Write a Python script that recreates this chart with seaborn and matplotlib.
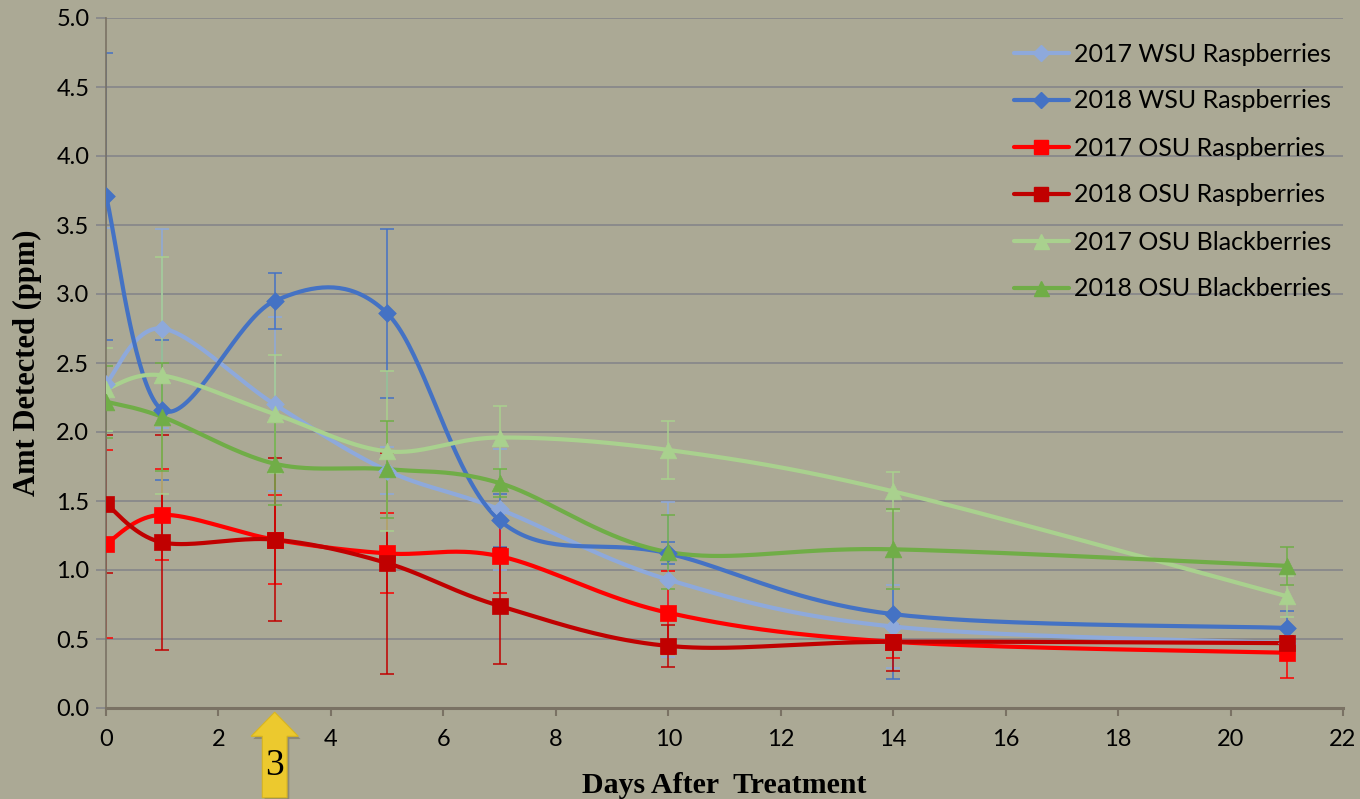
import numpy as np
import pandas as pd
import matplotlib
matplotlib.use("Agg")
import matplotlib.pyplot as plt
import matplotlib.transforms as mtransforms
from matplotlib.patches import Polygon
from matplotlib.lines import Line2D
import seaborn as sns

# ---------------- data ----------------
days = [0, 1, 3, 5, 7, 10, 14, 21]

wsu_rasp_2017 = [2.35, 2.75, 2.20, 1.72, 1.44, 0.93, 0.59, 0.47]
wsu_rasp_2017_err = [1.13, 0.72, 0.63, 0.17, 0.44, 0.56, 0.30, 0.05]

wsu_rasp_2018 = [3.71, 2.16, 2.95, 2.86, 1.36, 1.12, 0.68, 0.58]
wsu_rasp_2018_err = [1.04, 0.51, 0.20, 0.61, 0.19, 0.08, 0.47, 0.12]

osu_rasp_2017 = [1.19, 1.40, 1.22, 1.12, 1.10, 0.69, 0.48, 0.40]
osu_rasp_2017_err = [0.68, 0.33, 0.32, 0.29, 0.27, 0.30, 0.12, 0.18]

osu_rasp_2018 = [1.48, 1.20, 1.22, 1.05, 0.74, 0.45, 0.48, 0.47]
osu_rasp_2018_err = [0.50, 0.78, 0.59, 0.80, 0.42, 0.15, 0.21, 0.05]

osu_black_2017 = [2.31, 2.41, 2.13, 1.86, 1.96, 1.87, 1.57, 0.81]
osu_black_2017_err = [0.30, 0.86, 0.43, 0.58, 0.23, 0.21, 0.14, 0.15]

osu_black_2018 = [2.22, 2.11, 1.77, 1.73, 1.63, 1.13, 1.15, 1.03]
osu_black_2018_err = [0.26, 0.39, 0.30, 0.35, 0.10, 0.27, 0.29, 0.14]

series_names = ["2017 WSU Raspberries", "2018 WSU Raspberries",
                "2017 OSU Raspberries", "2018 OSU Raspberries",
                "2017 OSU Blackberries", "2018 OSU Blackberries"]
x_ticks = [0, 2, 4, 6, 8, 10, 12, 14, 16, 18, 20, 22]
y_ticks = [0.0, 0.5, 1.0, 1.5, 2.0, 2.5, 3.0, 3.5, 4.0, 4.5, 5.0]
arrow_day = 3

values = [wsu_rasp_2017, wsu_rasp_2018, osu_rasp_2017, osu_rasp_2018,
          osu_black_2017, osu_black_2018]
errors = [wsu_rasp_2017_err, wsu_rasp_2018_err, osu_rasp_2017_err,
          osu_rasp_2018_err, osu_black_2017_err, osu_black_2018_err]

# ---------------- style ----------------
colors = ["#8EA9DB", "#4472C4", "#FF0000", "#C00000", "#A9D18E", "#70AD47"]
markers = ["D", "D", "s", "s", "^", "^"]
msizes = [9, 9, 11, 11, 12, 12]
bg = "#ABA995"

sns.set_theme(style="white")
plt.rcParams["font.family"] = ["Lato", "DejaVu Sans"]
plt.rcParams["text.color"] = "black"
plt.rcParams["axes.labelcolor"] = "black"
plt.rcParams["xtick.color"] = "black"
plt.rcParams["ytick.color"] = "black"


def smooth(xs, ys, n=40):
    """Excel-like smoothed line (uniform Catmull-Rom as cubic Bezier)."""
    P = np.column_stack([xs, ys]).astype(float)
    m = len(P)
    out = []
    for i in range(m - 1):
        p0 = P[i - 1] if i > 0 else P[i]
        p1 = P[i]
        p2 = P[i + 1]
        p3 = P[i + 2] if i + 2 < m else P[i + 1]
        b1 = p1 + (p2 - p0) / 6.0
        b2 = p2 - (p3 - p1) / 6.0
        t = np.linspace(0, 1, n, endpoint=(i == m - 2))[:, None]
        seg = ((1 - t) ** 3) * p1 + 3 * ((1 - t) ** 2) * t * b1 + 3 * (1 - t) * t ** 2 * b2 + t ** 3 * p2
        out.append(seg)
    out = np.vstack(out)
    return out[:, 0], out[:, 1]


fig = plt.figure(figsize=(13.6, 7.99), dpi=100)
fig.patch.set_facecolor(bg)
ax = fig.add_axes([106 / 1360, 1 - 708 / 799, (1343 - 106) / 1360, (708 - 18) / 799])
ax.set_facecolor("none")

# error bars
for vals, errs, c in zip(values, errors, colors):
    ax.errorbar(days, vals, yerr=errs, fmt="none", ecolor=c, elinewidth=1.1,
                capsize=5, capthick=1.1, zorder=2)

# smoothed lines + markers
for name, vals, c, mk, ms in zip(series_names, values, colors, markers, msizes):
    sx, sy = smooth(days, vals)
    df_s = pd.DataFrame({"x": sx, "y": sy})
    sns.lineplot(data=df_s, x="x", y="y", sort=False, estimator=None,
                 color=c, linewidth=3.0, ax=ax, zorder=3, legend=False)
    df_p = pd.DataFrame({"x": days, "y": vals})
    sns.scatterplot(data=df_p, x="x", y="y", marker=mk, s=ms ** 2, color=c,
                    edgecolor=c, linewidth=0.5, ax=ax, zorder=4, legend=False)

ax.set_xlim(0, 22)
ax.set_ylim(0, 5)
ax.set_xticks(x_ticks)
ax.set_yticks(y_ticks)
ax.set_yticklabels([f"{v:.1f}" for v in y_ticks])
ax.grid(axis="y", color="#85858A", linewidth=1.2)
ax.grid(axis="x", visible=False)
ax.set_axisbelow(True)

for s in ["top", "right"]:
    ax.spines[s].set_visible(False)
ax.spines["left"].set_color("#7A7264")
ax.spines["left"].set_linewidth(1.2)
ax.spines["bottom"].set_color("#7A7264")
ax.spines["bottom"].set_linewidth(2.2)

ax.tick_params(axis="x", which="major", direction="out", length=6, width=1.5,
               color="#7A7264", labelsize=17, labelcolor="black", pad=9, bottom=True)
ax.tick_params(axis="y", which="major", direction="out", length=7, width=1.2,
               color="#85858A", labelsize=17, labelcolor="black", pad=5, left=True)

ax.set_xlabel("Days After  Treatment", family="Liberation Serif", fontweight="bold",
              fontsize=21.5, color="black")
ax.set_ylabel("Amt Detected (ppm)", family="Liberation Serif", fontweight="bold",
              fontsize=22, color="black")
ax.xaxis.set_label_coords(0.5, -0.093)
ax.yaxis.set_label_coords(-0.052, 0.5)

# legend
handles = [Line2D([0], [0], color=c, linewidth=3.0, marker=mk, markersize=ms * 0.9,
                  markeredgecolor=c) for c, mk, ms in zip(colors, markers, msizes)]
leg = fig.legend(handles, series_names, loc="upper left",
                 bbox_to_anchor=(1001 / 1360, 1 - 30 / 799), frameon=False,
                 fontsize=18, handlelength=2.2, handletextpad=0.2,
                 labelspacing=0.96, borderpad=0, labelcolor="black")

# yellow arrow at day 3 below the axis
trans = mtransforms.blended_transform_factory(ax.transData, ax.transAxes)
hw, sw = 0.42, 0.22
tip, base, bottom = -0.006, -0.041, -0.13
arrow_pts = [(arrow_day, tip), (arrow_day + hw, base), (arrow_day + sw, base),
             (arrow_day + sw, bottom), (arrow_day - sw, bottom), (arrow_day - sw, base),
             (arrow_day - hw, base)]
shadow = Polygon([(x + 0.04, y - 0.004) for x, y in arrow_pts], closed=True,
                 transform=trans, facecolor="#6E6B5A", edgecolor="none", alpha=0.5,
                 clip_on=False, zorder=5)
ax.add_patch(shadow)
arrow = Polygon(arrow_pts, closed=True, transform=trans, facecolor="#ECC92E",
                edgecolor="#D8B520", linewidth=0.8, clip_on=False, zorder=6)
ax.add_patch(arrow)
ax.text(arrow_day, -0.084, str(arrow_day), transform=trans, ha="center", va="center",
        family="Liberation Serif", fontsize=27, color="black", zorder=7, clip_on=False)

fig.savefig("out.png", dpi=100, facecolor=bg)
